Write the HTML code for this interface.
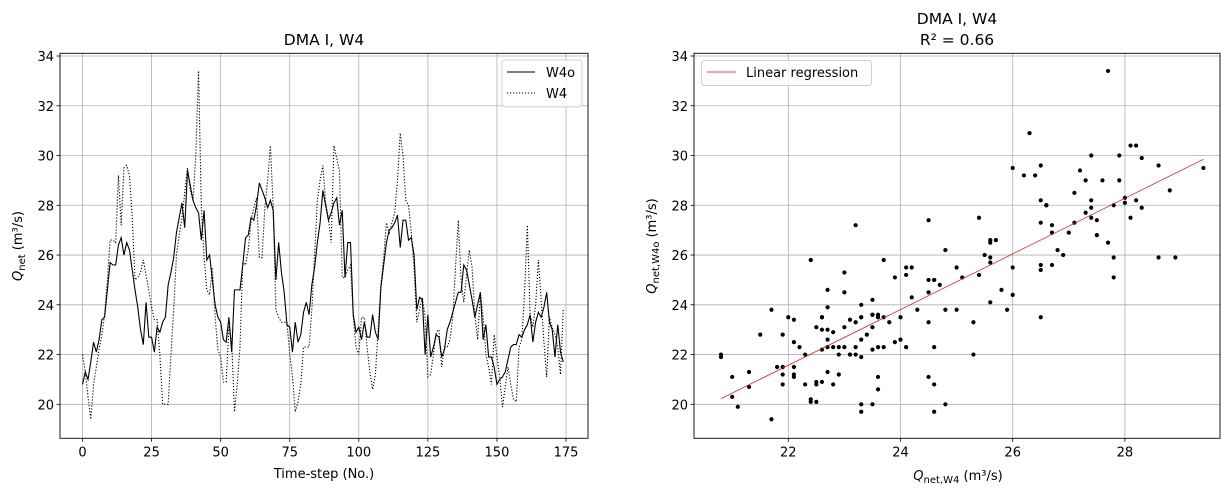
<!DOCTYPE html>
<html><head><meta charset="utf-8"><style>
body{margin:0;background:#fff;}
svg text{font-family:"DejaVu Sans","Liberation Sans",sans-serif;fill:#000;}
</style></head><body>
<svg id="chart" width="1232" height="495" xmlns="http://www.w3.org/2000/svg"></svg>
<script>
const steps = [];
for (let i = 0; i < 175; i++) steps.push(i);
const seriesW4o = [20.8,21.3,21.0,21.7,22.5,22.1,22.6,23.4,23.5,24.6,25.7,25.6,25.6,26.4,26.7,26.0,26.5,26.2,25.4,24.6,23.9,23.0,22.4,24.1,22.7,22.7,22.1,23.1,22.9,23.3,23.5,24.8,25.3,25.9,26.9,27.5,28.1,27.1,29.4,28.8,28.2,27.9,27.7,26.6,27.8,25.8,26.0,25.0,24.0,23.5,23.3,22.6,22.5,23.5,22.1,24.6,24.6,24.6,25.6,26.7,26.8,27.5,27.4,28.0,28.9,28.6,28.3,27.9,28.2,27.8,25.0,26.5,25.3,24.5,23.2,23.1,22.1,23.3,22.5,22.8,23.7,24.1,23.6,24.8,25.5,26.5,27.3,28.6,28.0,27.4,27.7,28.1,28.3,27.2,27.8,25.1,26.5,26.5,23.6,22.9,23.1,22.6,23.3,22.7,22.7,23.6,22.9,22.6,24.7,25.6,26.5,27.0,27.1,27.3,27.6,26.3,27.4,27.4,26.6,26.7,26.0,23.8,24.3,24.2,22.0,23.6,21.9,22.3,22.8,22.7,21.9,22.2,23.0,23.3,23.7,24.1,24.5,24.5,25.6,25.4,24.8,24.2,23.5,24.0,24.5,22.6,23.2,21.9,21.9,21.5,20.8,21.0,21.1,21.3,21.8,22.3,22.4,22.4,22.8,22.7,23.0,23.2,23.6,22.5,23.3,23.7,23.5,23.9,24.5,23.3,23.0,21.9,23.2,22.1,21.7];
const seriesW4 = [22.0,21.3,20.3,19.4,20.8,21.5,22.2,22.8,23.6,25.0,26.6,26.6,26.5,29.2,27.2,29.5,29.6,29.2,27.5,25.0,25.1,25.3,25.8,25.2,24.6,23.9,23.4,23.4,22.0,20.0,20.0,20.0,22.0,23.8,26.0,26.8,27.5,28.5,29.5,28.6,28.2,30.0,33.4,28.0,25.9,24.6,24.4,25.5,23.5,22.2,21.9,20.9,20.9,23.1,22.5,19.7,20.8,22.3,25.7,25.6,26.2,27.4,27.9,28.3,25.9,25.9,27.9,29.0,30.4,28.0,23.8,23.5,23.3,23.3,23.3,22.0,21.1,19.7,20.1,20.8,22.3,22.3,22.3,23.8,26.0,28.2,29.0,29.6,28.1,27.5,26.5,30.4,29.9,29.4,25.1,25.1,25.4,25.6,23.5,22.3,22.0,23.5,23.5,22.3,21.3,20.6,21.2,23.0,24.8,25.9,27.3,26.9,27.3,27.7,29.0,30.9,30.0,28.2,28.0,26.9,25.5,23.3,23.8,24.3,23.5,21.1,21.2,22.0,22.9,23.0,21.5,22.3,22.3,22.6,23.5,25.5,27.4,25.0,24.1,25.2,26.2,25.5,23.6,22.6,24.5,23.5,22.0,21.5,20.8,22.8,21.9,21.1,19.9,20.7,21.5,20.8,20.2,20.1,22.3,22.6,24.5,27.2,23.6,23.1,24.0,25.8,24.2,22.5,21.1,23.5,23.1,22.8,22.3,21.2,23.8];
const xTicksLeft = [0,25,50,75,100,125,150,175];
const xTicksRight = [22,24,26,28];
const yTicks = [20,22,24,26,28,30,32,34];

const NS = "http://www.w3.org/2000/svg";
const svg = document.getElementById('chart');
function mk(tag, attrs, parent){ const e=document.createElementNS(NS,tag); for(const k in attrs) e.setAttribute(k,attrs[k]); (parent||svg).appendChild(e); return e; }

const L = {x0:60, x1:588, y0:53.3, y1:438.3};
const R = {x0:694, x1:1220, y0:53.3, y1:438.3};
const yScale = v => 56.0 + (34 - v) * 24.88;
const xLeft = v => 82.5 + v * 2.763;
const xRight = v => 788.3 + (v - 22) * 56.1;
const FS = '13px';

function gridAndAxes(A, xticks, xs, name){
  const g = mk('g', {});
  
  
  xticks.forEach(t => {
    const x = xs(t);
    mk('line',{x1:x,x2:x,y1:A.y0,y2:A.y1,stroke:'#b0b0b0','stroke-width':0.8},g);
    mk('line',{x1:x,x2:x,y1:A.y1,y2:A.y1+3.5,stroke:'#000','stroke-width':0.8},g);
    const tx = mk('text',{x:x,y:A.y1+18,'text-anchor':'middle','font-size':FS},g);
    tx.textContent = t;
    
    
  });
  yTicks.forEach(t => {
    const y = yScale(t);
    mk('line',{x1:A.x0,x2:A.x1,y1:y,y2:y,stroke:'#b0b0b0','stroke-width':0.8},g);
    mk('line',{x1:A.x0-3.5,x2:A.x0,y1:y,y2:y,stroke:'#000','stroke-width':0.8},g);
    const tx = mk('text',{x:A.x0-6,y:y+5,'text-anchor':'end','font-size':FS},g);
    tx.textContent = t;
    
    
  });
}
function frame(A, name){
  const r = mk('rect',{x:A.x0,y:A.y0,width:A.x1-A.x0,height:A.y1-A.y0,fill:'none',stroke:'#000','stroke-width':0.9});
  
  
}
const clipL = mk('clipPath',{id:'cl'}); mk('rect',{x:L.x0,y:L.y0,width:L.x1-L.x0,height:L.y1-L.y0},clipL);
const clipR = mk('clipPath',{id:'cr'}); mk('rect',{x:R.x0,y:R.y0,width:R.x1-R.x0,height:R.y1-R.y0},clipR);

gridAndAxes(L, xTicksLeft, xLeft, 'left');
gridAndAxes(R, xTicksRight, xRight, 'right');

function linePath(vals){ return vals.map((v,i)=>(i?'L':'M')+xLeft(steps[i]).toFixed(2)+','+yScale(v).toFixed(2)).join(''); }
const p1 = mk('path',{d:linePath(seriesW4o),fill:'none',stroke:'#000','stroke-width':1.1,'clip-path':'url(#cl)'});


const p2 = mk('path',{d:linePath(seriesW4),fill:'none',stroke:'#000','stroke-width':1.1,'stroke-dasharray':'1.2,1.8','clip-path':'url(#cl)'});



const sg = mk('g',{'clip-path':'url(#cr)'});


for (let i = 0; i < seriesW4o.length; i++){
  const c = mk('circle',{cx:xRight(seriesW4o[i]),cy:yScale(seriesW4[i]),r:2.1,fill:'#000'},sg);
  
  
}
let n=seriesW4o.length,sx=0,sy=0,sxx=0,sxy=0,mn=1e9,mx=-1e9;
for(let i=0;i<n;i++){const a=seriesW4o[i],b=seriesW4[i];sx+=a;sy+=b;sxx+=a*a;sxy+=a*b;mn=Math.min(mn,a);mx=Math.max(mx,a);}
const slope=(n*sxy-sx*sy)/(n*sxx-sx*sx), icpt=(sy-slope*sx)/n;
const reg = mk('line',{x1:xRight(mn),y1:yScale(icpt+slope*mn),x2:xRight(mx),y2:yScale(icpt+slope*mx),stroke:'#ff0000','stroke-width':0.7,'clip-path':'url(#cr)'});



frame(L,'left');
frame(R,'right');

function txt(s,attrs,name){ const t=mk('text',attrs); t.innerHTML=s;   return t; }
txt('DMA I, W4',{x:324,y:45,'text-anchor':'middle','font-size':'15.5px'},'left-title');
txt('DMA I, W4',{x:957,y:24,'text-anchor':'middle','font-size':'15.5px'},'right-title');
txt('R² = 0.66',{x:957,y:45,'text-anchor':'middle','font-size':'15.5px'},'right-subtitle');
txt('Time-step (No.)',{x:324,y:478,'text-anchor':'middle','font-size':FS},'left-x-axis-title');
txt('<tspan font-style="italic">Q</tspan><tspan font-size="10px" dy="3">net,W4</tspan><tspan dy="-3"> (m³/s)</tspan>',{x:958,y:480,'text-anchor':'middle','font-size':FS},'right-x-axis-title');
txt('<tspan font-style="italic">Q</tspan><tspan font-size="10px" dy="3">net</tspan><tspan dy="-3"> (m³/s)</tspan>',{x:0,y:0,'text-anchor':'middle','font-size':FS,transform:'translate(22,246) rotate(-90)'},'left-y-axis-title');
txt('<tspan font-style="italic">Q</tspan><tspan font-size="10px" dy="3">net,W4o</tspan><tspan dy="-3"> (m³/s)</tspan>',{x:0,y:0,'text-anchor':'middle','font-size':FS,transform:'translate(656,246) rotate(-90)'},'right-y-axis-title');

const lg = mk('g',{});  
mk('rect',{x:502,y:60,width:80,height:47,rx:3,fill:'#fff','fill-opacity':0.8,stroke:'#d0d0d0'},lg);
mk('line',{x1:507,x2:535,y1:72,y2:72,stroke:'#000','stroke-width':1.1},lg);
mk('line',{x1:507,x2:535,y1:93,y2:93,stroke:'#000','stroke-width':1.1,'stroke-dasharray':'1.2,1.8'},lg);
const l1=mk('text',{x:546,y:77,'font-size':FS},lg); l1.textContent='W4o';
 
const l2=mk('text',{x:546,y:98,'font-size':FS},lg); l2.textContent='W4';
 

const rg = mk('g',{});  
mk('rect',{x:701.5,y:60.5,width:170,height:25,rx:3,fill:'#fff','fill-opacity':0.8,stroke:'#d0d0d0'},rg);
mk('line',{x1:707,x2:736,y1:72,y2:72,stroke:'#ff0000','stroke-width':0.7},rg);
const l3=mk('text',{x:746,y:77,'font-size':FS},rg); l3.textContent='Linear regression';
 
</script>
</body></html>
